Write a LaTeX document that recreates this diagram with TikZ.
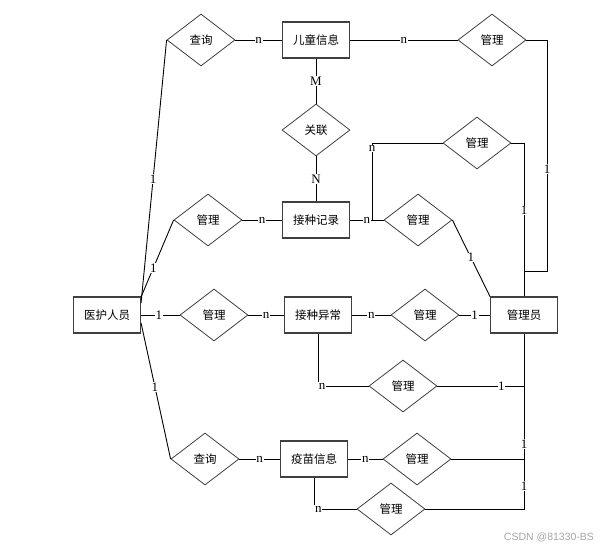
\documentclass[tikz,border=0pt]{standalone}
\usepackage{fontspec}
\setmainfont{Liberation Serif}
\newfontfamily\cjk{Noto Sans CJK SC}
\newfontfamily\wmfont{Liberation Sans}
\usetikzlibrary{shapes.geometric,calc}
\begin{document}
\begin{tikzpicture}[x=1pt,y=-1pt,
  ent/.style={draw=black!75,line width=1.1pt,rectangle,minimum width=67pt,minimum height=36pt,inner sep=0pt,font=\cjk\fontsize{11.5}{12}\selectfont},
  rel/.style={draw=black!75,line width=0.8pt,diamond,minimum width=68pt,minimum height=52pt,inner sep=0pt,font=\cjk\fontsize{11.5}{12}\selectfont},
  lbl/.style={fill=white,inner sep=0.6pt,font=\fontsize{13}{13}\selectfont},
  ln/.style={line width=0.9pt,black}]
\useasboundingbox (0,0) rectangle (604,548);
\fill[white] (0,0) rectangle (604,548);
% entities
\node[ent] (yh) at (107,315) {医护人员};
\node[ent] (et) at (316,40) {儿童信息};
\node[ent] (jl) at (316,220) {接种记录};
\node[ent] (yc) at (318,315) {接种异常};
\node[ent] (ym) at (314,459) {疫苗信息};
\node[ent] (gly) at (524,315) {管理员};
% relations
\node[rel] (cx1) at (201,40) {查询};
\node[rel] (gl1) at (492,40) {管理};
\node[rel] (gl2) at (477,143) {管理};
\node[rel] (gl3) at (418,220) {管理};
\node[rel] (gl4) at (208,220) {管理};
\node[rel] (gx) at (316,130) {关联};
\node[rel] (gl5) at (214,315) {管理};
\node[rel] (gl6) at (425,315) {管理};
\node[rel] (gl7) at (403,386) {管理};
\node[rel] (cx2) at (205,459) {查询};
\node[rel] (gl8) at (417,459) {管理};
\node[rel] (gl9) at (391,509) {管理};
% helper coordinates
\coordinate (yhA) at ([yshift=12pt]yh.east);
\coordinate (yhB) at ([yshift=18pt]yh.east);
\coordinate (yhC) at ([yshift=-8pt]yh.east);
\coordinate (r1) at (547,40);
\coordinate (r2) at (547,271);
\coordinate (k2) at (372,143);
\coordinate (k2b) at (372,220);
\coordinate (k7) at (yc.south |- gl7.west);
\coordinate (k9) at (ym.south |- gl9.west);
% connectors
\draw[ln] (yhA) -- node[lbl,pos=0.47]{1} (cx1.west);
\draw[ln] (cx1.east) -- node[lbl]{n} (et.west);
\draw[ln] (et.east) -- node[lbl]{n} (gl1.west);
\draw[ln] (gl1.east) -- (r1) -- node[lbl,pos=0.56]{1} (r2) -| (gly.north);
\draw[ln] (gl2.east) -| node[lbl,pos=0.72]{1} (gly.north);
\draw[ln] (et.south) -- node[lbl]{M} (gx.north);
\draw[ln] (gx.south) -- node[lbl]{N} (jl.north);
\draw[ln] (yhB) -- node[lbl,pos=0.38]{1} (gl4.west);
\draw[ln] (gl4.east) -- node[lbl]{n} (jl.west);
\draw[ln] (jl.east) -- node[lbl]{n} (gl3.west);
\draw[ln] (gl2.west) -- (k2) -- node[lbl,pos=0.07]{n} (k2b);
\draw[ln] (gl3.east) -- node[lbl,pos=0.49]{1} (gly.north west);
\draw[ln] (yh.east) -- node[lbl,pos=0.46]{1} (gl5.west);
\draw[ln] (gl5.east) -- node[lbl]{n} (yc.west);
\draw[ln] (yc.east) -- node[lbl]{n} (gl6.west);
\draw[ln] (gl6.east) -- node[lbl]{1} (gly.west);
\draw[ln] (yc.south) -- (k7) -- node[lbl,pos=0.08]{n} (gl7.west);
\draw[ln] (gl7.east) -- node[lbl,pos=0.74]{1} (gl7.east -| gly.south);
\draw[ln] (yhC) -- node[lbl,pos=0.47]{1} (cx2.west);
\draw[ln] (cx2.east) -- node[lbl]{n} (ym.west);
\draw[ln] (ym.east) -- node[lbl]{n} (gl8.west);
\draw[ln] (gly.south) -- node[lbl,pos=0.88]{1} (gl8.east -| gly.south) -- (gl8.east);
\draw[ln] (gl8.east -| gly.south) -- node[lbl,pos=0.54]{1} (gl9.east -| gly.south) -- (gl9.east);
\draw[ln] (ym.south) -- (k9) -- node[lbl,pos=0.1]{n} (gl9.west);
% watermark
\node[text=black!35,font=\wmfont\fontsize{10.5}{10.5}\selectfont,inner sep=0pt] (wm) at (549,537) {CSDN @81330-BS};
\end{tikzpicture}
\end{document}
